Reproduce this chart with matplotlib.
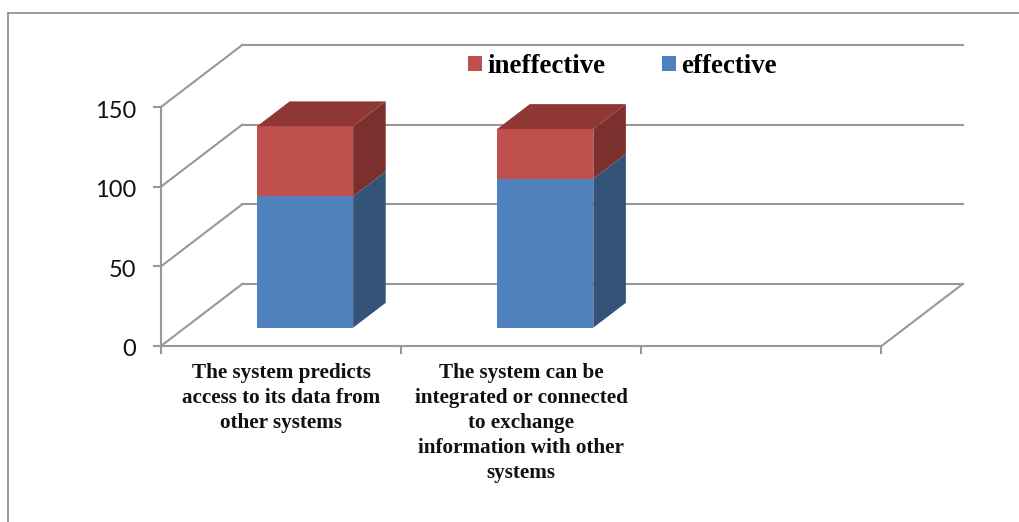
import matplotlib
matplotlib.use("Agg")
import matplotlib.pyplot as plt
from matplotlib.lines import Line2D
from matplotlib.patches import Patch, Polygon
from matplotlib.transforms import ScaledTranslation

# Datos
categories = [
    "The system predicts\naccess to its data from\nother systems",
    "The system can be\nintegrated or connected\nto exchange\ninformation with other\nsystems",
]
effective = [82.4, 93.5]
ineffective = [44.0, 31.2]
y_ticks = [0, 50, 100, 150]
n_slots = 3

# Colores
GRID = "#989898"
BLUE, BLUE_SIDE = "#4F81BD", "#335378"
RED, RED_SIDE, RED_TOP = "#C0504D", "#7C302E", "#8E3735"

# Desplazamiento de la pared del fondo, en unidades de los ejes
WALL_DX = 0.339
WALL_DY = 39.0
BAR_WIDTH = 0.40
BAR_FRONT = 0.295
BAR_BACK = 0.695

W, H = 1020, 522


def proyectar(x, y, d):
    return (x + d * WALL_DX, y + d * WALL_DY)


def cara(ax, puntos, color):
    ax.add_patch(Polygon(puntos, closed=True, facecolor=color, edgecolor="none",
                         linewidth=0, clip_on=False, zorder=3))


def segmento(ax, x0, x1, y0, y1, color):
    # cara frontal y lateral de un tramo de la columna
    f = BAR_FRONT
    b = BAR_BACK
    cara(ax, [proyectar(x0, y0, f), proyectar(x1, y0, f),
              proyectar(x1, y1, f), proyectar(x0, y1, f)], color[0])
    cara(ax, [proyectar(x1, y0, f), proyectar(x1, y0, b),
              proyectar(x1, y1, b), proyectar(x1, y1, f)], color[1])


fig = plt.figure(figsize=(W / 100, H / 100), dpi=100, facecolor="white")
ax = fig.add_axes([161 / W, (H - 346) / H, (881.5 - 161) / W, (346 - 107.0) / H])
ax.set_xlim(0, n_slots)
ax.set_ylim(0, 150)
ax.patch.set_visible(False)

# Paredes: lineas de fondo y diagonales del lateral
for v in y_ticks:
    ax.plot([0, WALL_DX], [v, v + WALL_DY], color=GRID, lw=1.5, clip_on=False, zorder=1)
    ax.plot([WALL_DX, n_slots + WALL_DX], [v + WALL_DY, v + WALL_DY], color=GRID, lw=1.5,
            clip_on=False, zorder=1)
ax.plot([n_slots, n_slots + WALL_DX], [0, WALL_DY], color=GRID, lw=1.5, clip_on=False, zorder=1)

# Columnas apiladas
for i in range(len(categories)):
    x0 = i + 0.5 - BAR_WIDTH / 2
    x1 = i + 0.5 + BAR_WIDTH / 2
    tope = effective[i] + ineffective[i]
    segmento(ax, x0, x1, 0, effective[i], (BLUE, BLUE_SIDE))
    segmento(ax, x0, x1, effective[i], tope, (RED, RED_SIDE))
    cara(ax, [proyectar(x0, tope, BAR_FRONT), proyectar(x1, tope, BAR_FRONT),
              proyectar(x1, tope, BAR_BACK), proyectar(x0, tope, BAR_BACK)], RED_TOP)

# Ejes
for lado in ("top", "right"):
    ax.spines[lado].set_visible(False)
for lado in ("left", "bottom"):
    ax.spines[lado].set_color(GRID)
    ax.spines[lado].set_linewidth(1.5)
    ax.spines[lado].set_zorder(2)

ax.set_yticks(y_ticks)
ax.set_yticklabels([str(v) for v in y_ticks], family="Lato", fontsize=17, color="#111111")
ax.tick_params(axis="y", length=6, width=1.5, color=GRID, pad=12)
# bajar un poco los numeros del eje y
bajar = ScaledTranslation(0, -2 / 100, fig.dpi_scale_trans)
for etiqueta in ax.get_yticklabels():
    etiqueta.set_transform(etiqueta.get_transform() + bajar)

ax.set_xticks(range(n_slots + 1))
ax.set_xticklabels([])
ax.tick_params(axis="x", which="major", length=5.5, width=1.5, color=GRID)
ax.set_xticks([i + 0.5 for i in range(len(categories))], minor=True)
ax.set_xticklabels(categories, minor=True, family="Liberation Serif", fontweight="bold",
                   fontsize=15.2, linespacing=1.34, color="#111111")
ax.tick_params(axis="x", which="minor", length=0, pad=12)

# Leyenda
manejadores = [Patch(facecolor=RED, label="ineffective"), Patch(facecolor=BLUE, label="effective")]
fig.legend(handles=manejadores, loc="center left", bbox_to_anchor=(468 / W, 1 - 66.5 / H),
           ncols=2, frameon=False, borderpad=0, borderaxespad=0, handlelength=0.52,
           handleheight=0.52, handletextpad=0.19, columnspacing=2.1,
           prop={"family": "Liberation Serif", "weight": "bold", "size": 19.4})

# Marco exterior
fig.add_artist(Line2D([8 / W, 1], [1 - 13 / H, 1 - 13 / H], color="#8C8C8C", lw=1.2))
fig.add_artist(Line2D([8 / W, 8 / W], [0, 1 - 13 / H], color="#8C8C8C", lw=1.2))

fig.savefig("out.png", dpi=100)
